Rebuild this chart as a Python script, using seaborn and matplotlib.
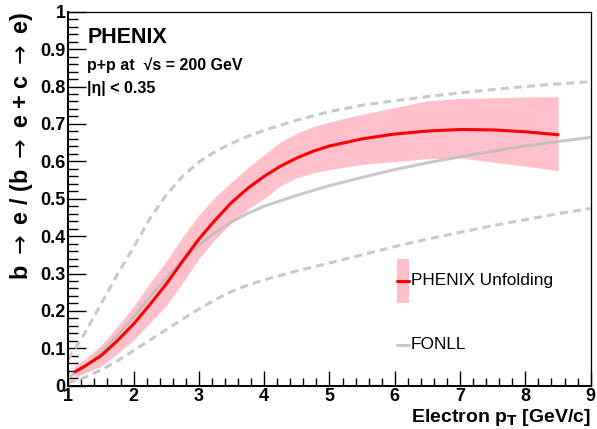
import numpy as np
import pandas as pd
import matplotlib
matplotlib.use('Agg')
from matplotlib import pyplot as plt
from matplotlib.ticker import MultipleLocator
import seaborn as sns

# PHENIX unfolding result (central value and band)
pt_unf = [1.1, 1.25, 1.5, 1.75, 2.0, 2.25, 2.5, 2.75, 3.0, 3.25, 3.5, 3.75, 4.0, 4.25, 4.5, 4.75,
          5.0, 5.5, 6.0, 6.5, 7.0, 7.5, 8.0, 8.5]
unf_mid = [0.037, 0.052, 0.08, 0.12, 0.165, 0.217, 0.272, 0.333, 0.392, 0.443, 0.49, 0.528, 0.56, 0.587,
           0.609, 0.627, 0.641, 0.66, 0.673, 0.681, 0.685, 0.684, 0.679, 0.671]
unf_hi = [0.053, 0.07, 0.108, 0.158, 0.212, 0.275, 0.333, 0.398, 0.457, 0.505, 0.545, 0.583, 0.618, 0.652,
          0.675, 0.693, 0.705, 0.726, 0.744, 0.762, 0.768, 0.77, 0.772, 0.773]
unf_lo = [0.022, 0.033, 0.052, 0.085, 0.122, 0.168, 0.214, 0.275, 0.34, 0.392, 0.435, 0.472, 0.50, 0.535,
          0.556, 0.569, 0.578, 0.592, 0.599, 0.607, 0.609, 0.598, 0.587, 0.575]

# FONLL central and its uncertainty
pt_fonll = [1.0, 1.25, 1.5, 1.75, 2.0, 2.25, 2.5, 2.75, 3.0, 3.25, 3.5, 3.75, 4.0, 4.5, 5.0, 5.5,
            6.0, 6.5, 7.0, 7.5, 8.0, 8.5, 9.0]
fonll_mid = [0.022, 0.05, 0.088, 0.133, 0.183, 0.237, 0.288, 0.335, 0.376, 0.41, 0.438, 0.461, 0.48, 0.509,
             0.535, 0.557, 0.578, 0.596, 0.612, 0.627, 0.641, 0.653, 0.664]
fonll_hi = [0.07, 0.14, 0.218, 0.297, 0.37, 0.447, 0.51, 0.56, 0.598, 0.626, 0.648, 0.667, 0.683, 0.71,
            0.733, 0.75, 0.762, 0.773, 0.783, 0.792, 0.8, 0.807, 0.813]
fonll_lo = [0.008, 0.022, 0.042, 0.066, 0.094, 0.122, 0.15, 0.178, 0.205, 0.23, 0.252, 0.269, 0.283, 0.307,
            0.328, 0.35, 0.372, 0.392, 0.41, 0.428, 0.444, 0.46, 0.474]

x_ticks = [1, 2, 3, 4, 5, 6, 7, 8, 9]
y_ticks = [0, 0.1, 0.2, 0.3, 0.4, 0.5, 0.6, 0.7, 0.8, 0.9, 1]
y_ticklabels = ['0', '0.1', '0.2', '0.3', '0.4', '0.5', '0.6', '0.7', '0.8', '0.9', '1']

sns.set_theme(style='white')
plt.rcParams['font.family'] = ['Liberation Sans', 'DejaVu Sans']
plt.rcParams['mathtext.fontset'] = 'dejavusans'
for k in ['text.color', 'axes.labelcolor', 'xtick.color', 'ytick.color']:
    plt.rcParams[k] = 'black'

unf = pd.DataFrame({'pt': pt_unf, 'mid': unf_mid, 'hi': unf_hi, 'lo': unf_lo})
fonll = pd.DataFrame({'pt': pt_fonll, 'mid': fonll_mid, 'hi': fonll_hi, 'lo': fonll_lo})

fig = plt.figure(figsize=(5.97, 4.29), dpi=100)
ax = fig.add_axes([0.1144, 0.1009, 0.875, 0.8718])

grey = '#c8c8c8'
pink = '#ffc0cb'
ax.fill_between(unf['pt'], unf['lo'], unf['hi'], color=pink, lw=0, zorder=1)
sns.lineplot(data=fonll, x='pt', y='hi', ax=ax, color=grey, lw=2.2, linestyle=(0, (2.6, 1.7)), zorder=2)
sns.lineplot(data=fonll, x='pt', y='lo', ax=ax, color=grey, lw=2.2, linestyle=(0, (2.6, 1.7)), zorder=2)
sns.lineplot(data=fonll, x='pt', y='mid', ax=ax, color='#bbbbbb', alpha=0.8, lw=2.2, zorder=2)
sns.lineplot(data=unf, x='pt', y='mid', ax=ax, color='#ff0000', lw=2.2, zorder=4)

ax.set_xlim(1, 9)
ax.set_ylim(0, 1)
ax.set_xticks(x_ticks)
ax.set_yticks(y_ticks)
ax.set_yticklabels(y_ticklabels)
ax.xaxis.set_minor_locator(MultipleLocator(0.2))
ax.yaxis.set_minor_locator(MultipleLocator(0.02))
ax.tick_params(axis='both', which='both', direction='in', bottom=True, left=True, top=False, right=False,
               color='black', labelsize=13, pad=2)
ax.tick_params(axis='y', which='major', length=13, width=1)
ax.tick_params(axis='y', which='minor', length=7, width=1)
ax.tick_params(axis='x', which='major', length=11, width=1)
ax.tick_params(axis='x', which='minor', length=6, width=1)
for lab in ax.get_xticklabels() + ax.get_yticklabels():
    lab.set_fontweight('bold')
for s in ['left', 'bottom']:
    ax.spines[s].set_linewidth(1.4)
    ax.spines[s].set_color('black')
for s in ['top', 'right']:
    ax.spines[s].set_linewidth(0.9)
    ax.spines[s].set_color('black')

ax.set_xlabel(r'Electron p$_\mathbf{T}$ [GeV/c]', fontsize=14, fontweight='bold', loc='right', labelpad=1)
ax.set_ylabel(r'b $\rightarrow$ e / (b $\rightarrow$ e + c $\rightarrow$ e)', fontsize=16.8, fontweight='bold',
              loc='top', labelpad=4)

ax.text(0.037, 0.96, 'PHENIX', transform=ax.transAxes, fontsize=15.5, fontweight='bold', va='top')
ax.text(0.036, 0.878, 'p+p at  \u221as = 200 GeV', transform=ax.transAxes, fontsize=11.5, fontweight='bold', va='top')
ax.text(0.036, 0.815, '|\u03b7| < 0.35', transform=ax.transAxes, fontsize=11.5, fontweight='bold', va='top')

# legend drawn ROOT-style
ax.fill_between([6.04, 6.22], [0.22, 0.22], [0.338, 0.338], color=pink, lw=0)
ax.plot([6.04, 6.22], [0.28, 0.28], color='#ff0000', lw=2.2)
ax.text(6.25, 0.28, 'PHENIX Unfolding', fontsize=12.4, va='center')
ax.plot([6.04, 6.22], [0.109, 0.109], color=grey, lw=2.2)
ax.text(6.25, 0.109, 'FONLL', fontsize=12.4, va='center')

ax.set_facecolor('white')
fig.savefig('out.png', dpi=100)
